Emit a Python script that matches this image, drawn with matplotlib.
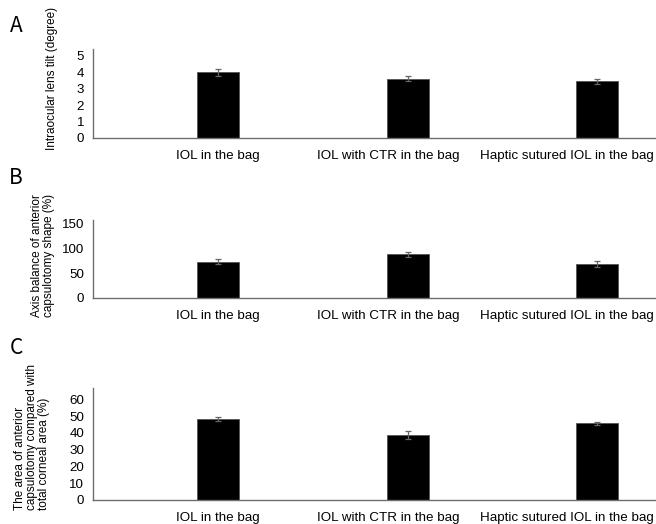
import matplotlib
matplotlib.use('Agg')
import matplotlib.pyplot as plt

groups = ['IOL in the bag', 'IOL with CTR in the bag', 'Haptic sutured IOL in the bag']

tilt = [3.98, 3.6, 3.43]
tilt_err = [0.2, 0.17, 0.15]

axis_balance = [73.5, 88.5, 68]
axis_balance_err = [5, 5, 6]

area_ratio = [48, 38.7, 45.7]
area_ratio_err = [1.2, 2.2, 0.9]

W, H = 656, 524
plt.rcParams['font.family'] = ['Liberation Sans', 'DejaVu Sans']

fig = plt.figure(figsize=(W / 100, H / 100), dpi=100)

# where the category labels sit (the original shifts the last two leftwards)
label_pos = [0, 0.90, 1.383]
label_ha = ['center', 'center', 'left']

def panel(top, bottom, values, errs, ymax, ticks):
    ax = fig.add_axes([93 / W, 1 - bottom / H, (W - 93) / W, (bottom - top) / H])
    x = range(len(values))
    ax.bar(x, values, width=0.22, color='black', edgecolor='#555555', linewidth=0.6)
    ax.errorbar(x, values, yerr=errs, fmt='none', ecolor='#666666',
                elinewidth=0.9, capsize=2.5, capthick=0.9)
    ax.set_xlim(-0.66, 2.31)
    ax.set_ylim(0, ymax)
    ax.set_yticks(ticks)
    ax.set_xticks(label_pos)
    ax.set_xticklabels(groups)
    for lab, ha in zip(ax.get_xticklabels(), label_ha):
        lab.set_horizontalalignment(ha)
    ax.tick_params(length=0, labelsize=9.6, colors='black')
    ax.tick_params(axis='x', pad=8.5)
    ax.tick_params(axis='y', pad=6.5)
    for s in ['top', 'right']:
        ax.spines[s].set_visible(False)
    for s in ['left', 'bottom']:
        ax.spines[s].set_color('#6e6e6e')
        ax.spines[s].set_linewidth(1.0)
    ax.patch.set_alpha(0)
    return ax

panel(49, 138, tilt, tilt_err, 5.4, [0, 1, 2, 3, 4, 5])
panel(220, 298, axis_balance, axis_balance_err, 158, [0, 50, 100, 150])
panel(388, 500, area_ratio, area_ratio_err, 66.7, [0, 10, 20, 30, 40, 50, 60])

# y axis titles
fig.text(52 / W, 1 - 78 / H, 'Intraocular lens tilt (degree)', rotation=90,
         ha='center', va='center', fontsize=8.5)
fig.text(43 / W, 1 - 255 / H, 'Axis balance of anterior\ncapsulotomy shape (%)',
         rotation=90, ha='center', va='center', fontsize=8.5,
         multialignment='left', linespacing=0.95)
fig.text(32 / W, 1 - 437 / H,
         'The area of anterior\ncapsulotomy compared with\ntotal corneal area (%)',
         rotation=90, ha='center', va='center', fontsize=8.5,
         multialignment='left', linespacing=0.95)

# panel letters
for letter, yc in [('A', 26), ('B', 178), ('C', 348)]:
    fig.text(16 / W, 1 - yc / H, letter, ha='center', va='center', fontsize=15,
             family=['Noto Sans CJK SC', 'DejaVu Sans'])

fig.savefig('out.png', dpi=100)
